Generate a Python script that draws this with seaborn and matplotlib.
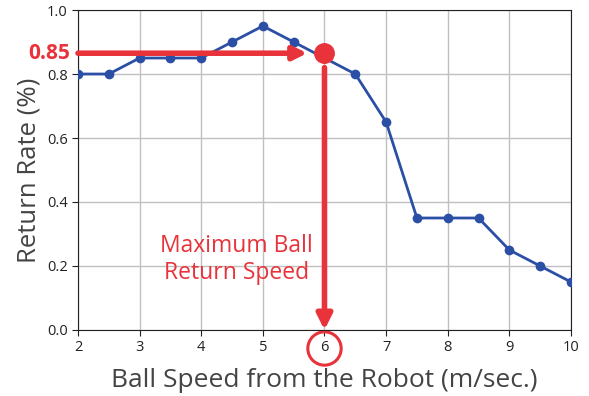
import matplotlib
matplotlib.use("Agg")
import matplotlib.pyplot as plt
import seaborn as sns
import pandas as pd

# data
speed = [2, 2.5, 3, 3.5, 4, 4.5, 5, 5.5, 6, 6.5, 7, 7.5, 8, 8.5, 9, 9.5, 10]
rate = [0.80, 0.80, 0.85, 0.85, 0.85, 0.90, 0.95, 0.90, 0.85, 0.80,
        0.65, 0.35, 0.35, 0.35, 0.25, 0.20, 0.15]
best_speed = 6
best_rate = 0.85

df = pd.DataFrame({"speed": speed, "rate": rate})

sns.set_style("ticks")
plt.rcParams["font.family"] = ["Open Sans", "DejaVu Sans"]

RED = "#e8333b"
BLUE = "#2c4fa6"

fig = plt.figure(figsize=(5.89, 3.96), dpi=100)
ax = fig.add_axes([0.1324, 0.1667, 0.837, 0.808])

sns.lineplot(data=df, x="speed", y="rate", ax=ax, color=BLUE, marker="o",
             markersize=7, markeredgewidth=0, linewidth=2, zorder=3)

ax.set_xlim(2, 10)
ax.set_ylim(0, 1.0)
ax.set_xticks(range(2, 11))
ax.set_yticks([0.0, 0.2, 0.4, 0.6, 0.8, 1.0])
ax.set_yticklabels(["0.0", "0.2", "0.4", "0.6", "0.8", "1.0"])
ax.tick_params(labelsize=10.5, colors="#222222", length=4)
ax.grid(True, color="#c0c0c0", linewidth=1)
ax.set_axisbelow(True)
for s in ax.spines.values():
    s.set_color("#222222")

ax.set_xlabel("Ball Speed from the Robot (m/sec.)", fontsize=19, color="#444444", labelpad=9)
ax.set_ylabel("Return Rate (%)", fontsize=18.5, color="#444444", labelpad=4)

# highlighted point
ax.plot([best_speed], [best_rate + 0.015], "o", color=RED, markersize=14, zorder=5)

# horizontal arrow
ax.annotate("", xy=(best_speed - 0.28, best_rate + 0.015), xytext=(2.0, best_rate + 0.015),
            arrowprops=dict(arrowstyle="-|>,head_length=0.8,head_width=0.4",
                            color=RED, lw=4, shrinkA=0, shrinkB=0), zorder=4)
ax.text(-0.015, best_rate + 0.015, "0.85", transform=ax.get_yaxis_transform(),
        color=RED, fontsize=15, fontweight="bold", ha="right", va="center")

# vertical arrow
ax.annotate("", xy=(best_speed, 0.0), xytext=(best_speed, best_rate - 0.03),
            arrowprops=dict(arrowstyle="-|>,head_length=0.9,head_width=0.45",
                            color=RED, lw=4, shrinkA=0, shrinkB=0), zorder=4)
ax.text(4.57, 0.22, "Maximum Ball\nReturn Speed", color=RED, fontsize=16.5,
        ha="center", va="center", linespacing=1.15)

# circle around tick label
ax.plot([best_speed], [-0.057], "o", mfc="none", mec=RED, markersize=24,
        markeredgewidth=2.2, clip_on=False)

fig.savefig("out.png", dpi=100)
